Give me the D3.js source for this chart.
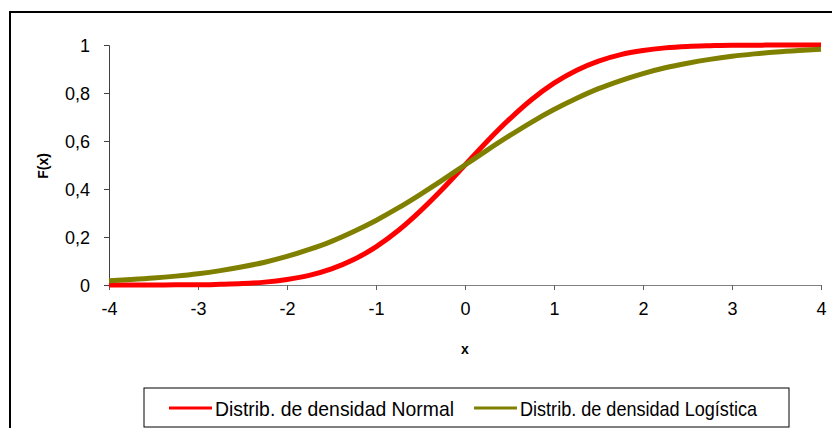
<!DOCTYPE html>
<html>
<head>
<meta charset="utf-8">
<script src="https://cdn.jsdelivr.net/npm/d3@7"></script>
<style>
	body { margin: 0; background: #fff; }
	svg text { font-family: "Liberation Sans", Arial, sans-serif; fill: #000; }
</style>
</head>
<body>
<svg id="chart" width="832" height="428"></svg>
<script>
// x values and the two cumulative curves
const xs = [-4, -3.75, -3.5, -3.25, -3, -2.75, -2.5, -2.25, -2, -1.75, -1.5, -1.25, -1, -0.75, -0.5, -0.25,
	0, 0.25, 0.5, 0.75, 1, 1.25, 1.5, 1.75, 2, 2.25, 2.5, 2.75, 3, 3.25, 3.5, 3.75, 4];
const normalVals = [0.000, 0.000, 0.000, 0.001, 0.001, 0.003, 0.006, 0.012, 0.023, 0.040, 0.067, 0.106, 0.159, 0.227, 0.309, 0.401,
	0.500, 0.599, 0.691, 0.773, 0.841, 0.894, 0.933, 0.960, 0.977, 0.988, 0.994, 0.997, 0.999, 0.999, 1.000, 1.000, 1.000];
const logisticVals = [0.018, 0.023, 0.029, 0.037, 0.047, 0.060, 0.076, 0.095, 0.119, 0.148, 0.182, 0.223, 0.269, 0.321, 0.378, 0.438,
	0.500, 0.562, 0.622, 0.679, 0.731, 0.777, 0.818, 0.852, 0.881, 0.905, 0.924, 0.940, 0.953, 0.963, 0.971, 0.977, 0.982];
const xTicks = [-4, -3, -2, -1, 0, 1, 2, 3, 4];
const yTicks = [0, 0.2, 0.4, 0.6, 0.8, 1];
const seriesNames = ['Distrib. de densidad Normal', 'Distrib. de densidad Logística'];
const seriesColors = ['#ff0000', '#808000'];

const svg = d3.select('#chart');

// outer chart border (runs off the right and bottom)
svg.append('rect')
	.attr('x', 10).attr('y', 12)
	.attr('width', 900).attr('height', 500)
	.attr('fill', 'none').attr('stroke', '#000').attr('stroke-width', 2);

const x = d3.scaleLinear().domain([-4, 4]).range([109, 821]);
const y = d3.scaleLinear().domain([0, 1]).range([285, 45]);

const fmt = d => String(d).replace('.', ',');

// y axis
const yAxis = svg.append('g')
	.attr('transform', 'translate(109,0)')
	.call(d3.axisLeft(y).tickValues(yTicks).tickSize(5).tickPadding(14).tickFormat(fmt));
yAxis.select('.domain').attr('stroke', '#404040');
yAxis.selectAll('.tick line').attr('stroke', '#404040');
yAxis.selectAll('text').style('font-size', '18px').attr('dy', '0.35em');

// x axis
const xAxis = svg.append('g')
	.attr('transform', 'translate(0,285)')
	.call(d3.axisBottom(x).tickValues(xTicks).tickSize(5).tickPadding(12).tickFormat(fmt));
xAxis.select('.domain').attr('stroke', '#808080');
xAxis.selectAll('.tick line').attr('stroke', '#606060');
xAxis.selectAll('text').style('font-size', '18px');

// axis titles
svg.append('text')
	.attr('x', 465).attr('y', 354)
	.attr('text-anchor', 'middle')
	.style('font-size', '14px').style('font-weight', 'bold')
	.text('x');
svg.append('text')
	.attr('transform', 'translate(48,166) rotate(-90)')
	.attr('text-anchor', 'middle')
	.style('font-size', '14px').style('font-weight', 'bold')
	.text('F(x)');

// curves
const line = d3.line()
	.x((d, i) => x(xs[i]))
	.y(d => y(d))
	.curve(d3.curveMonotoneX);

[normalVals, logisticVals].forEach((vals, k) => {
	svg.append('path')
		.datum(vals)
		.attr('d', line)
		.attr('fill', 'none')
		.attr('stroke', seriesColors[k])
		.attr('stroke-width', 5)
		.attr('stroke-linejoin', 'round');
});

// legend
svg.append('rect')
	.attr('x', 144).attr('y', 388)
	.attr('width', 645).attr('height', 39)
	.attr('fill', '#fff').attr('stroke', '#000').attr('stroke-width', 1);

const legendX = [169, 474];
const textW = [239, 237];
seriesNames.forEach((name, k) => {
	svg.append('line')
		.attr('x1', legendX[k]).attr('x2', legendX[k] + 43)
		.attr('y1', 408).attr('y2', 408)
		.attr('stroke', seriesColors[k]).attr('stroke-width', 3);
	svg.append('text')
		.attr('x', legendX[k] + 46).attr('y', 416)
		.attr('textLength', textW[k]).attr('lengthAdjust', 'spacingAndGlyphs')
		.style('font-size', '21px')
		.text(name);
});
</script>
</body>
</html>
